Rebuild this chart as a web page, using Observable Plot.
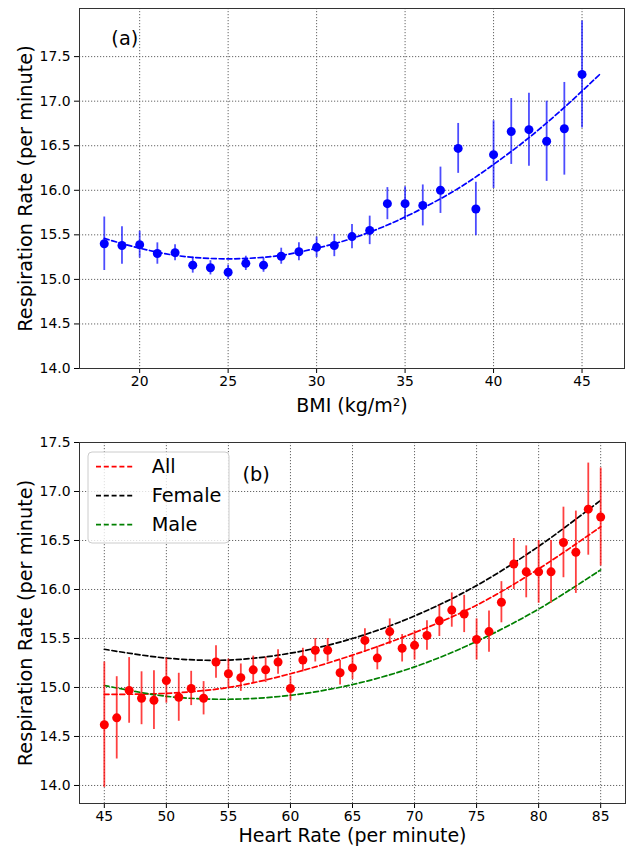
<!DOCTYPE html>
<html><head><meta charset="utf-8">
<script src="https://cdn.jsdelivr.net/npm/d3@7"></script>
<script src="https://cdn.jsdelivr.net/npm/@observablehq/plot@0.6"></script>
<style>body{margin:0;background:#fff} svg{display:block}</style>
</head><body><div id="chart"></div>
<script>
// ---------- Panel (a): BMI ----------
const bmi = [18,19,20,21,22,23,24,25,26,27,28,29,30,31,32,33,34,35,36,37,38,39,40,41,42,43,44,45];
const rrBmi = [15.40,15.38,15.39,15.29,15.30,15.16,15.13,15.08,15.18,15.16,15.26,15.31,15.36,15.38,15.48,15.55,15.85,15.85,15.83,16.00,16.47,15.79,16.40,16.66,16.68,16.55,16.69,17.30];
const errBmi = [0.30,0.21,0.15,0.12,0.09,0.09,0.08,0.08,0.08,0.08,0.09,0.10,0.115,0.125,0.135,0.16,0.18,0.19,0.23,0.26,0.28,0.30,0.38,0.37,0.41,0.45,0.52,0.60];
const fitBmiX = [18,20,22,24,26,28,30,32,34,36,38,40,42,44,46];
const fitBmiY = [15.46,15.35,15.27,15.235,15.235,15.27,15.35,15.46,15.61,15.80,16.02,16.29,16.59,16.93,17.30];
const bmiTicks = [20,25,30,35,40,45];

// ---------- Panel (b): Heart rate ----------
const hr = d3.range(45, 86);
const rrHr = [14.62,14.69,14.97,14.89,14.87,15.07,14.90,14.99,14.89,15.26,
              15.14,15.10,15.18,15.18,15.26,14.99,15.28,15.38,15.38,15.15,
              15.20,15.48,15.30,15.57,15.40,15.43,15.53,15.68,15.79,15.75,
              15.49,15.57,15.87,16.26,16.18,16.18,16.18,16.48,16.38,16.82,
              16.74];
const errHr = [0.64,0.42,0.335,0.27,0.30,0.23,0.245,0.175,0.17,0.165,
               0.15,0.14,0.14,0.13,0.125,0.125,0.12,0.12,0.12,0.125,
               0.12,0.12,0.12,0.13,0.14,0.15,0.15,0.16,0.175,0.19,
               0.21,0.21,0.21,0.26,0.265,0.32,0.32,0.36,0.42,0.47,
               0.50];
const fitHrX = [45,50,55,60,65,70,75,80,85];
const fitAll = [14.93,14.94,15.00,15.14,15.33,15.56,15.84,16.21,16.64];
const fitFemale = [15.39,15.30,15.28,15.35,15.50,15.73,16.04,16.44,16.91];
const fitMale = [15.02,14.91,14.88,14.92,15.03,15.21,15.47,15.80,16.20];
const hrTicks = [45,50,55,60,65,70,75,80,85];

const rrTicks = [14.0,14.5,15.0,15.5,16.0,16.5,17.0,17.5];
const legendNames = ["All","Female","Male"];
const legendColors = ["#ff0000","#000000","#008000"];

// ---------- build tables ----------
const dataA = bmi.map((x,i) => ({x, y: rrBmi[i], e: errBmi[i]}));
const fitA = fitBmiX.map((x,i) => ({x, y: fitBmiY[i]}));
const dataB = hr.map((x,i) => ({x, y: rrHr[i], e: errHr[i]}));
const fitB = [];
[fitAll, fitFemale, fitMale].forEach((arr, k) => fitHrX.forEach((x,i) => fitB.push({x, y: arr[i], s: legendNames[k]})));

const font = "DejaVu Sans, sans-serif";
const gridStyle = {stroke: "#555", strokeOpacity: 1, strokeDasharray: "1.2,1.8", strokeWidth: 0.9};
const fmt = d => d.toFixed(1);
const labelStyle = {fontSize: 19.3, fill: "black", textAnchor: "middle", lineAnchor: "middle"};

function common(xTicks) {
  return [
    Plot.gridX(xTicks, gridStyle),
    Plot.gridY(rrTicks, gridStyle),
    Plot.axisX(xTicks, {tickSize: 5, tickPadding: 3, label: null}),
    Plot.axisY(rrTicks, {tickSize: 5, tickPadding: 4, label: null, tickFormat: fmt}),
    Plot.frame({stroke: "#333", strokeWidth: 1})
  ];
}

const plotA = Plot.plot({
  width: 627, height: 420,
  marginLeft: 79, marginRight: 3, marginTop: 8, marginBottom: 52,
  style: {fontFamily: font, fontSize: "13.9px", color: "black", background: "white"},
  x: {domain: [16.6, 47.4]},
  y: {domain: [14, 18.04]},
  marks: [
    ...common(bmiTicks),
    Plot.line(fitA, {x: "x", y: "y", stroke: "#0000ff", strokeWidth: 1.7, strokeDasharray: "5,2.8", curve: "catmull-rom"}),
    Plot.ruleX(dataA, {x: "x", y1: d => d.y - d.e, y2: d => d.y + d.e, stroke: "#0000ff", strokeOpacity: 0.7, strokeWidth: 1.8}),
    Plot.dot(dataA, {x: "x", y: "y", r: 4.5, fill: "#0000ff"}),
    Plot.text([{x: 19.16, y: 17.70, t: "(a)"}], {x: "x", y: "y", text: "t", ...labelStyle}),
    Plot.text(["BMI (kg/m²)"], {frameAnchor: "bottom", dy: 37, ...labelStyle, fontSize: 19}),
    Plot.text(["Respiration Rate (per minute)"], {frameAnchor: "left", dx: -53.5, rotate: -90, ...labelStyle})
  ]
});

const plotB = Plot.plot({
  width: 627, height: 427,
  marginLeft: 79, marginRight: 2, marginTop: 22, marginBottom: 44,
  style: {fontFamily: font, fontSize: "13.9px", color: "black", background: "white"},
  x: {domain: [43, 87]},
  y: {domain: [13.816, 17.5]},
  color: {domain: legendNames, range: legendColors},
  marks: [
    ...common(hrTicks),
    Plot.line(fitB, {x: "x", y: "y", z: "s", stroke: "s", strokeWidth: 1.7, strokeDasharray: "5,2.8", curve: "catmull-rom"}),
    Plot.ruleX(dataB, {x: "x", y1: d => d.y - d.e, y2: d => d.y + d.e, stroke: "#ff0000", strokeOpacity: 0.75, strokeWidth: 1.8}),
    Plot.dot(dataB, {x: "x", y: "y", r: 4.5, fill: "#ff0000"}),
    Plot.text([{x: 57.24, y: 17.17, t: "(b)"}], {x: "x", y: "y", text: "t", ...labelStyle}),
    Plot.text(["Heart Rate (per minute)"], {frameAnchor: "bottom", dy: 32.5, ...labelStyle, fontSize: 19}),
    Plot.text(["Respiration Rate (per minute)"], {frameAnchor: "left", dx: -53.5, rotate: -90, ...labelStyle})
  ]
});

// legend for panel (b)
const svgB = d3.select(plotB);
const lg = svgB.append("g").attr("font-family", font).attr("text-anchor", "start");
lg.append("rect").attr("x", 88).attr("y", 32).attr("width", 141).attr("height", 91).attr("rx", 4)
  .attr("fill", "white").attr("fill-opacity", 0.8).attr("stroke", "#cccccc").attr("stroke-width", 1);
legendNames.forEach((name, i) => {
  const yy = 46.7 + i * 29;
  lg.append("line").attr("x1", 96).attr("x2", 135).attr("y1", yy).attr("y2", yy)
    .attr("stroke", legendColors[i]).attr("stroke-width", 1.7).attr("stroke-dasharray", "5,2.8");
  lg.append("text").attr("x", 151.7).attr("y", yy).attr("dy", "0.35em").attr("text-anchor", "start")
    .attr("font-size", 19.3).attr("fill", "black").text(name);
});

const root = document.getElementById("chart");
root.appendChild(plotA);
root.appendChild(plotB);
</script></body></html>
